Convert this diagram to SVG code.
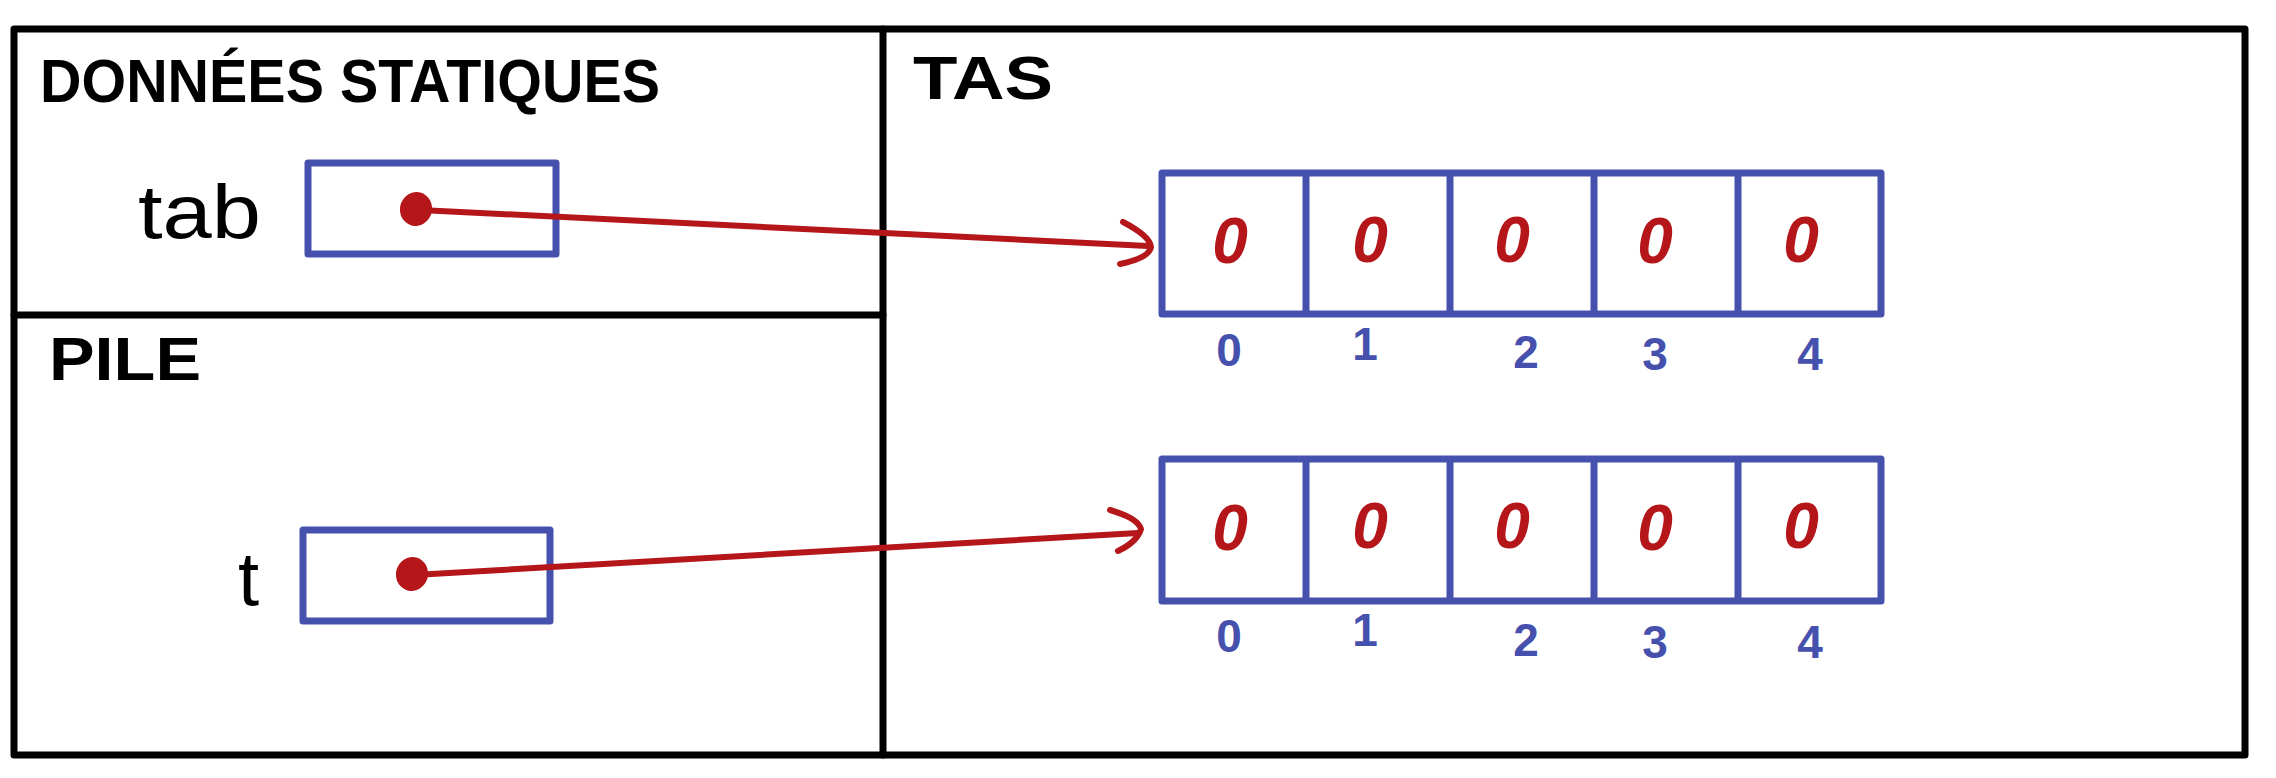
<svg xmlns="http://www.w3.org/2000/svg" width="2276" height="778" viewBox="0 0 2276 778">
<style>
.frame{fill:none;stroke:#000;stroke-width:7;stroke-linejoin:round;stroke-linecap:round}
.title{font-family:"Liberation Sans",sans-serif;font-size:62px;fill:#000;font-weight:bold}
.var{font-family:"Liberation Sans",sans-serif;font-size:76px;fill:#000}
.box{fill:none;stroke:#4551ad;stroke-width:7;stroke-linejoin:round}
.val{font-family:"Liberation Sans",sans-serif;font-size:64px;font-weight:bold;font-style:italic;fill:#b5161a;text-anchor:middle}
.idx{font-family:"Liberation Sans",sans-serif;font-size:46px;font-weight:bold;fill:#4551ad;text-anchor:middle}
.ptr{fill:none;stroke:#b5161a;stroke-width:6;stroke-linecap:round;stroke-linejoin:round}
.dot{fill:#b5161a}
</style>
<rect width="2276" height="778" fill="#fff"/>
<g id="frame">
<rect class="frame" x="14" y="29" width="2231" height="726"/>
<line class="frame" x1="883" y1="29" x2="883" y2="755"/>
<line class="frame" x1="14" y1="315" x2="883" y2="315"/>
</g>
<g id="zone-statiques">
<text class="title" x="40" y="102" textLength="620" lengthAdjust="spacingAndGlyphs">DONNÉES STATIQUES</text>
</g>
<g id="zone-pile">
<text class="title" x="49" y="380" textLength="152" lengthAdjust="spacingAndGlyphs">PILE</text>
</g>
<g id="zone-tas">
<text class="title" x="913" y="99" textLength="140" lengthAdjust="spacingAndGlyphs">TAS</text>
</g>
<g id="var-tab">
<text class="var" x="138" y="238" textLength="123" lengthAdjust="spacingAndGlyphs">tab</text>
<rect class="box" x="308" y="163" width="248" height="91"/>
<ellipse class="dot" cx="416" cy="209" rx="16" ry="17" transform="rotate(15 416 209)"/>
</g>
<g id="var-t">
<text class="var" x="238" y="605">t</text>
<rect class="box" x="303" y="530" width="247" height="91"/>
<ellipse class="dot" cx="412" cy="574" rx="16" ry="17" transform="rotate(15 412 574)"/>
</g>
<g id="array-1">
<rect class="box" x="1162" y="173" width="719" height="141"/>
<line class="box" x1="1306" y1="173" x2="1306" y2="314"/>
<line class="box" x1="1450" y1="173" x2="1450" y2="314"/>
<line class="box" x1="1594" y1="173" x2="1594" y2="314"/>
<line class="box" x1="1738" y1="173" x2="1738" y2="314"/>
<text class="val" x="1230" y="263">0</text>
<text class="val" x="1370" y="262">0</text>
<text class="val" x="1512" y="262">0</text>
<text class="val" x="1655" y="263">0</text>
<text class="val" x="1801" y="262">0</text>
<text class="idx" x="1229" y="366">0</text>
<text class="idx" x="1365" y="360">1</text>
<text class="idx" x="1526" y="368">2</text>
<text class="idx" x="1655" y="370">3</text>
<text class="idx" x="1810" y="370">4</text>
</g>
<g id="array-2">
<rect class="box" x="1162" y="459" width="719" height="142"/>
<line class="box" x1="1306" y1="459" x2="1306" y2="601"/>
<line class="box" x1="1450" y1="459" x2="1450" y2="601"/>
<line class="box" x1="1594" y1="459" x2="1594" y2="601"/>
<line class="box" x1="1738" y1="459" x2="1738" y2="601"/>
<text class="val" x="1230" y="550">0</text>
<text class="val" x="1370" y="548">0</text>
<text class="val" x="1512" y="548">0</text>
<text class="val" x="1655" y="550">0</text>
<text class="val" x="1801" y="548">0</text>
<text class="idx" x="1229" y="652">0</text>
<text class="idx" x="1365" y="646">1</text>
<text class="idx" x="1526" y="656">2</text>
<text class="idx" x="1655" y="658">3</text>
<text class="idx" x="1810" y="658">4</text>
</g>
<g id="connectors">
<path class="ptr" d="M420,210 L1148,246"/>
<path class="ptr" d="M1123,222 Q1150,236 1151,247 Q1149,258 1120,264"/>
<path class="ptr" d="M414,575 L1138,533"/>
<path class="ptr" d="M1110,510 Q1138,518 1141,529 Q1137,542 1118,551"/>
</g>
</svg>
